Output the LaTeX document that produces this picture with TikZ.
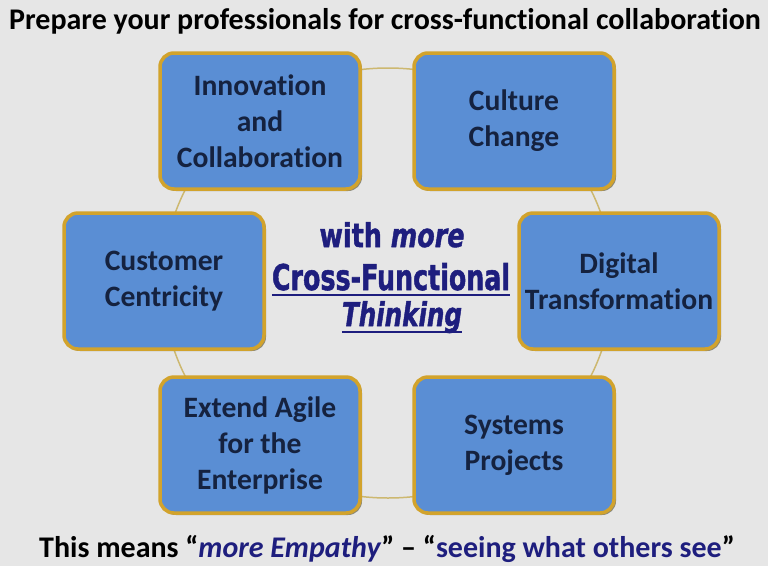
\documentclass[tikz,border=0pt]{standalone}
\usepackage{fontspec}
\setmainfont{Carlito}[Ligatures = NoCommon]
\newfontfamily\condfont{DejaVu Sans Condensed}[BoldFeatures = {FakeBold = 1.5}, BoldItalicFeatures = {FakeBold = 1.5}]
\usepackage{graphicx}
\usetikzlibrary{positioning}
\usetikzlibrary{shadows}
\definecolor{bggray}{HTML}{E6E6E6}
\definecolor{boxblue}{HTML}{5A8ED4}
\definecolor{boxgold}{HTML}{D2A32C}
\definecolor{ringgold}{HTML}{CDB870}
\definecolor{navytext}{HTML}{15223F}
\definecolor{deepblue}{HTML}{1E1E7E}
\tikzset{goal/.style = {draw = boxgold, line width = 3.5pt, fill = boxblue, rounded corners = 14pt,
    minimum width = 200pt, minimum height = 136pt, align = center, text = navytext,
    font = \bfseries\fontsize{29.6}{36}\selectfont,
    drop shadow = {shadow xshift = 2pt, shadow yshift = -2pt, fill = black!60!olive, opacity = .6}}}
\tikzset{slogan/.style = {inner sep = 0, anchor = base, text = deepblue, font = \condfont\bfseries}}

\begin{document}
\begin{tikzpicture}[x = 1pt, y = -1pt]
      \fill [bggray] (0, 0) rectangle (768, 566);
      \useasboundingbox (0, 0) rectangle (768, 566);
      \draw [ringgold, line width = 1.5pt] (388, 283) ellipse [x radius = 225, y radius = 215];
      \node [goal] (innov) at (260, 121) {Innovation\\and\\Collaboration};
      \node [goal] (culture) at (514, 121) {Culture\\Change};
      \node [goal] (customer) at (164, 281) {Customer\\Centricity};
      \node [goal] (digital) at (619, 281) {Digital\\Transformation};
      \node [goal] (agile) at (260, 445) {Extend Agile\\for the\\Enterprise};
      \node [goal] (systems) at (514, 445) {Systems\\Projects};
      \node [slogan] (with) at (392, 247) {\resizebox{145pt}{25pt}{with \textit{more}}};
      \node [slogan] (cross) at (391, 290) {\resizebox{238pt}{27pt}{Cross-Functional}};
      \node [slogan] (think) at (402, 326) {\resizebox{120pt}{25pt}{\textit{Thinking}}};
      \draw [deepblue, line width = 1.2pt] ([yshift = -5pt] cross.base west) -- ([yshift = -5pt] cross.base east);
      \draw [deepblue, line width = 1.2pt] ([yshift = -6pt] think.base west) -- ([yshift = -6pt] think.base east);
      \node [font = \bfseries\fontsize{30}{34}\selectfont] (title) at (385, 21)
        {Prepare your professionals for cross-functional collaboration};
      \node [font = \bfseries\fontsize{30}{34}\selectfont] (means) at (387, 549)
        {This means “\textcolor{deepblue}{\textit{more Empathy}}” – “\textcolor{deepblue}{seeing what others see}”};
    \end{tikzpicture}
\end{document}
